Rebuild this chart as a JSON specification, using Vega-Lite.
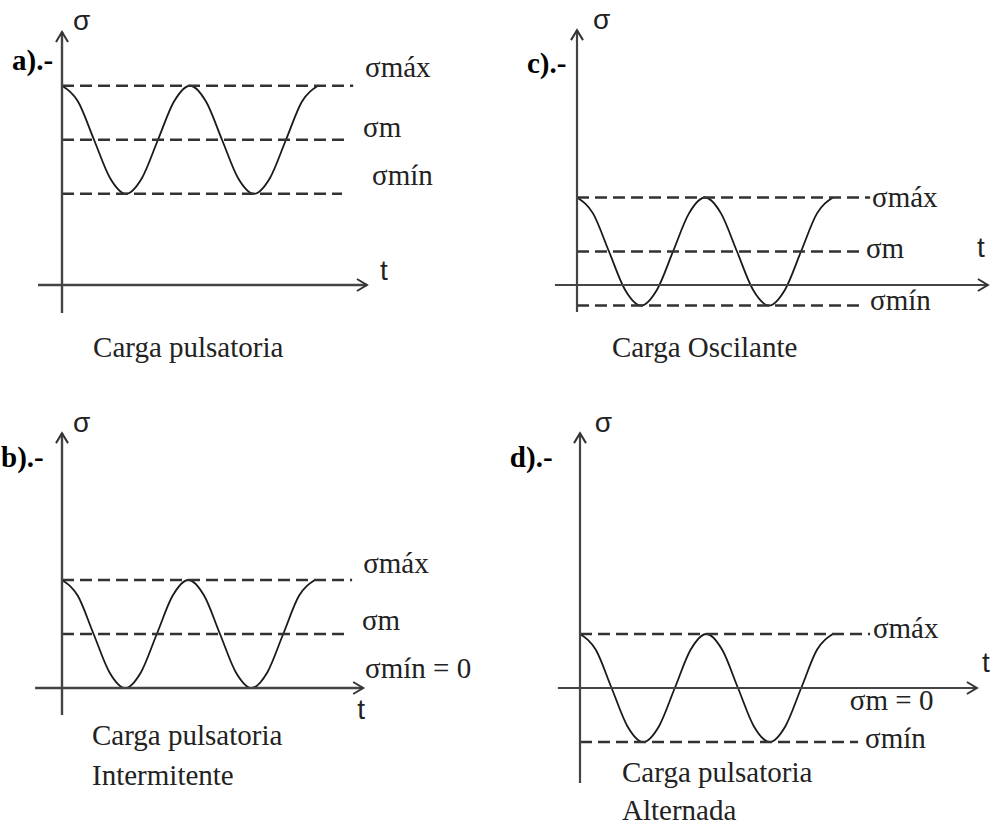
{
  "$schema": "https://vega.github.io/schema/vega-lite/v6.json",
  "padding": 0,
  "background": "white",
  "config": {"view": {"stroke": null}},
  "spacing": 0,
  "bounds": "flush",
  "columns": 2,
  "concat": [
        {
          "width": 495, "height": 412,
          "encoding": {
            "x": {"field": "t", "type": "quantitative", "axis": null, "scale": {"domain": [-1.9375, 13.53125], "nice": false, "zero": false}},
            "y": {"field": "s", "type": "quantitative", "axis": null, "scale": {"domain": [-2.35185, 5.27778], "nice": false, "zero": false}}
          },
          "layer": [
            {"data": {"values": [{"t":0,"s":3.69},{"t":0.5,"s":3.397},{"t":1,"s":2.69},{"t":1.5,"s":1.983},{"t":2,"s":1.69},{"t":2.5,"s":1.983},{"t":3,"s":2.69},{"t":3.5,"s":3.397},{"t":4,"s":3.69},{"t":4.5,"s":3.397},{"t":5,"s":2.69},{"t":5.5,"s":1.983},{"t":6,"s":1.69},{"t":6.5,"s":1.983},{"t":7,"s":2.69},{"t":7.5,"s":3.397},{"t":8,"s":3.69}]},
             "mark": {"type": "line", "interpolate": "monotone", "stroke": "#1a1a1a", "strokeWidth": 1.8}},
            {"data": {"values": [{"t":0,"t2":9.1,"s":3.69},{"t":0,"t2":8.95,"s":2.69},{"t":0,"t2":8.75,"s":1.69}]},
             "mark": {"type": "rule", "stroke": "#333", "strokeWidth": 2.3, "strokeDash": [12, 6]},
             "encoding": {"x2": {"field": "t2"}}},
            {"data": {"values": [{"t":0,"s":-0.52,"s2":4.685}]},
             "mark": {"type": "rule", "stroke": "#444", "strokeWidth": 2.4},
             "encoding": {"y2": {"field": "s2"}}},
            {"data": {"values": [{"t":-0.75,"t2":9.53,"s":0}]},
             "mark": {"type": "rule", "stroke": "#444", "strokeWidth": 2.4},
             "encoding": {"x2": {"field": "t2"}}},
            {"data": {"values": [{"t":0,"s":4.685}]},
             "mark": {"type": "point", "shape": "M-0.6,1L0,0L0.6,1", "size": 400, "filled": false, "stroke": "#333", "strokeWidth": 2, "opacity": 1}},
            {"data": {"values": [{"t":9.53,"s":0}]},
             "mark": {"type": "point", "shape": "M-1,-0.6L0,0L-1,0.6", "size": 400, "filled": false, "stroke": "#333", "strokeWidth": 2, "opacity": 1}},
            {"data": {"values": [{"t":9.47,"s":3.85,"label":"σmáx"},{"t":9.41,"s":2.74,"label":"σm"},{"t":9.69,"s":1.85,"label":"σmín"},{"t":0.97,"s":-1.333,"label":"Carga pulsatoria"}]},
             "mark": {"type": "text", "align": "left", "baseline": "alphabetic", "font": "Liberation Serif", "fontSize": 29, "color": "#222"},
             "encoding": {"text": {"field": "label"}}},
            {"data": {"values": [{"t":0.34,"s":4.72,"label":"σ"},{"t":9.94,"s":0.09,"label":"t"}]},
             "mark": {"type": "text", "align": "left", "baseline": "alphabetic", "font": "Liberation Sans", "fontSize": 28, "color": "#222"},
             "encoding": {"text": {"field": "label"}}},
            {"data": {"values": [{"t":-1.5625,"s":3.98,"label":"a).-"}]},
             "mark": {"type": "text", "align": "left", "baseline": "alphabetic", "font": "Liberation Serif", "fontWeight": "bold", "fontSize": 29, "color": "#000"},
             "encoding": {"text": {"field": "label"}}}
          ]
        },
        {
          "width": 496, "height": 412,
          "encoding": {
            "x": {"field": "t", "type": "quantitative", "axis": null, "scale": {"domain": [-2.5625, 12.9375], "nice": false, "zero": false}},
            "y": {"field": "s", "type": "quantitative", "axis": null, "scale": {"domain": [-2.35185, 5.27778], "nice": false, "zero": false}}
          },
          "layer": [
            {"data": {"values": [{"t":0,"s":1.62},{"t":0.5,"s":1.327},{"t":1,"s":0.62},{"t":1.5,"s":-0.087},{"t":2,"s":-0.38},{"t":2.5,"s":-0.087},{"t":3,"s":0.62},{"t":3.5,"s":1.327},{"t":4,"s":1.62},{"t":4.5,"s":1.327},{"t":5,"s":0.62},{"t":5.5,"s":-0.087},{"t":6,"s":-0.38},{"t":6.5,"s":-0.087},{"t":7,"s":0.62},{"t":7.5,"s":1.327},{"t":8,"s":1.62}]},
             "mark": {"type": "line", "interpolate": "monotone", "stroke": "#1a1a1a", "strokeWidth": 1.8}},
            {"data": {"values": [{"t":0,"t2":9.16,"s":1.62},{"t":0,"t2":9.0,"s":0.62},{"t":0,"t2":8.84,"s":-0.38}]},
             "mark": {"type": "rule", "stroke": "#333", "strokeWidth": 2.3, "strokeDash": [12, 6]},
             "encoding": {"x2": {"field": "t2"}}},
            {"data": {"values": [{"t":0,"s":-0.5,"s2":4.72}]},
             "mark": {"type": "rule", "stroke": "#444", "strokeWidth": 2.2},
             "encoding": {"y2": {"field": "s2"}}},
            {"data": {"values": [{"t":-0.69,"t2":12.84,"s":0}]},
             "mark": {"type": "rule", "stroke": "#444", "strokeWidth": 2.2},
             "encoding": {"x2": {"field": "t2"}}},
            {"data": {"values": [{"t":0,"s":4.72}]},
             "mark": {"type": "point", "shape": "M-0.6,1L0,0L0.6,1", "size": 400, "filled": false, "stroke": "#333", "strokeWidth": 2, "opacity": 1}},
            {"data": {"values": [{"t":12.84,"s":0}]},
             "mark": {"type": "point", "shape": "M-1,-0.6L0,0L-1,0.6", "size": 400, "filled": false, "stroke": "#333", "strokeWidth": 2, "opacity": 1}},
            {"data": {"values": [{"t":9.22,"s":1.44,"label":"σmáx"},{"t":9.03,"s":0.5,"label":"σm"},{"t":9.16,"s":-0.46,"label":"σmín"},{"t":1.09,"s":-1.333,"label":"Carga Oscilante"}]},
             "mark": {"type": "text", "align": "left", "baseline": "alphabetic", "font": "Liberation Serif", "fontSize": 29, "color": "#222"},
             "encoding": {"text": {"field": "label"}}},
            {"data": {"values": [{"t":0.5,"s":4.74,"label":"σ"},{"t":12.5,"s":0.52,"label":"t"}]},
             "mark": {"type": "text", "align": "left", "baseline": "alphabetic", "font": "Liberation Sans", "fontSize": 28, "color": "#222"},
             "encoding": {"text": {"field": "label"}}},
            {"data": {"values": [{"t":-1.5625,"s":3.93,"label":"c).-"}]},
             "mark": {"type": "text", "align": "left", "baseline": "alphabetic", "font": "Liberation Serif", "fontWeight": "bold", "fontSize": 29, "color": "#000"},
             "encoding": {"text": {"field": "label"}}}
          ]
        },
        {
          "width": 495, "height": 412,
          "encoding": {
            "x": {"field": "t", "type": "quantitative", "axis": null, "scale": {"domain": [-1.96203, 13.70253], "nice": false, "zero": false}},
            "y": {"field": "s", "type": "quantitative", "axis": null, "scale": {"domain": [-2.51852, 5.11111], "nice": false, "zero": false}}
          },
          "layer": [
            {"data": {"values": [{"t":0,"s":2},{"t":0.5,"s":1.707},{"t":1,"s":1},{"t":1.5,"s":0.293},{"t":2,"s":0},{"t":2.5,"s":0.293},{"t":3,"s":1},{"t":3.5,"s":1.707},{"t":4,"s":2},{"t":4.5,"s":1.707},{"t":5,"s":1},{"t":5.5,"s":0.293},{"t":6,"s":0},{"t":6.5,"s":0.293},{"t":7,"s":1},{"t":7.5,"s":1.707},{"t":8,"s":2}]},
             "mark": {"type": "line", "interpolate": "monotone", "stroke": "#1a1a1a", "strokeWidth": 1.8}},
            {"data": {"values": [{"t":0,"t2":9.18,"s":2},{"t":0,"t2":8.96,"s":1}]},
             "mark": {"type": "rule", "stroke": "#333", "strokeWidth": 2.3, "strokeDash": [12, 6]},
             "encoding": {"x2": {"field": "t2"}}},
            {"data": {"values": [{"t":0,"s":-0.5,"s2":4.72}]},
             "mark": {"type": "rule", "stroke": "#444", "strokeWidth": 2.4},
             "encoding": {"y2": {"field": "s2"}}},
            {"data": {"values": [{"t":-0.85,"t2":9.53,"s":0}]},
             "mark": {"type": "rule", "stroke": "#444", "strokeWidth": 2.4},
             "encoding": {"x2": {"field": "t2"}}},
            {"data": {"values": [{"t":0,"s":4.72}]},
             "mark": {"type": "point", "shape": "M-0.6,1L0,0L0.6,1", "size": 400, "filled": false, "stroke": "#333", "strokeWidth": 2, "opacity": 1}},
            {"data": {"values": [{"t":9.53,"s":0}]},
             "mark": {"type": "point", "shape": "M-1,-0.6L0,0L-1,0.6", "size": 400, "filled": false, "stroke": "#333", "strokeWidth": 2, "opacity": 1}},
            {"data": {"values": [{"t":9.53,"s":2.13,"label":"σmáx"},{"t":9.49,"s":1.07,"label":"σm"},{"t":9.59,"s":0.185,"label":"σmín = 0"},{"t":0.95,"s":-1.056,"label":"Carga pulsatoria"},{"t":0.95,"s":-1.796,"label":"Intermitente"}]},
             "mark": {"type": "text", "align": "left", "baseline": "alphabetic", "font": "Liberation Serif", "fontSize": 29, "color": "#222"},
             "encoding": {"text": {"field": "label"}}},
            {"data": {"values": [{"t":0.35,"s":4.74,"label":"σ"},{"t":9.34,"s":-0.574,"label":"t"}]},
             "mark": {"type": "text", "align": "left", "baseline": "alphabetic", "font": "Liberation Sans", "fontSize": 28, "color": "#222"},
             "encoding": {"text": {"field": "label"}}},
            {"data": {"values": [{"t":-1.93,"s":4.09,"label":"b).-"}]},
             "mark": {"type": "text", "align": "left", "baseline": "alphabetic", "font": "Liberation Serif", "fontWeight": "bold", "fontSize": 29, "color": "#000"},
             "encoding": {"text": {"field": "label"}}}
          ]
        },
        {
          "width": 496, "height": 412,
          "encoding": {
            "x": {"field": "t", "type": "quantitative", "axis": null, "scale": {"domain": [-2.68987, 13.00633], "nice": false, "zero": false}},
            "y": {"field": "s", "type": "quantitative", "axis": null, "scale": {"domain": [-2.51852, 5.11111], "nice": false, "zero": false}}
          },
          "layer": [
            {"data": {"values": [{"t":0,"s":1},{"t":0.5,"s":0.707},{"t":1,"s":0},{"t":1.5,"s":-0.707},{"t":2,"s":-1},{"t":2.5,"s":-0.707},{"t":3,"s":0},{"t":3.5,"s":0.707},{"t":4,"s":1},{"t":4.5,"s":0.707},{"t":5,"s":0},{"t":5.5,"s":-0.707},{"t":6,"s":-1},{"t":6.5,"s":-0.707},{"t":7,"s":0},{"t":7.5,"s":0.707},{"t":8,"s":1}]},
             "mark": {"type": "line", "interpolate": "monotone", "stroke": "#1a1a1a", "strokeWidth": 1.8}},
            {"data": {"values": [{"t":0,"t2":9.18,"s":1},{"t":0,"t2":8.8,"s":-1}]},
             "mark": {"type": "rule", "stroke": "#333", "strokeWidth": 2.3, "strokeDash": [12, 6]},
             "encoding": {"x2": {"field": "t2"}}},
            {"data": {"values": [{"t":0,"s":-1.76,"s2":4.72}]},
             "mark": {"type": "rule", "stroke": "#444", "strokeWidth": 2.2},
             "encoding": {"y2": {"field": "s2"}}},
            {"data": {"values": [{"t":-0.7,"t2":12.56,"s":0}]},
             "mark": {"type": "rule", "stroke": "#444", "strokeWidth": 2.2},
             "encoding": {"x2": {"field": "t2"}}},
            {"data": {"values": [{"t":0,"s":4.72}]},
             "mark": {"type": "point", "shape": "M-0.6,1L0,0L0.6,1", "size": 400, "filled": false, "stroke": "#333", "strokeWidth": 2, "opacity": 1}},
            {"data": {"values": [{"t":12.56,"s":0}]},
             "mark": {"type": "point", "shape": "M-1,-0.6L0,0L-1,0.6", "size": 400, "filled": false, "stroke": "#333", "strokeWidth": 2, "opacity": 1}},
            {"data": {"values": [{"t":9.27,"s":0.93,"label":"σmáx"},{"t":8.54,"s":-0.41,"label":"σm = 0"},{"t":9.02,"s":-1.11,"label":"σmín"},{"t":1.33,"s":-1.74,"label":"Carga pulsatoria"},{"t":1.33,"s":-2.44,"label":"Alternada"}]},
             "mark": {"type": "text", "align": "left", "baseline": "alphabetic", "font": "Liberation Serif", "fontSize": 29, "color": "#222"},
             "encoding": {"text": {"field": "label"}}},
            {"data": {"values": [{"t":0.47,"s":4.74,"label":"σ"},{"t":12.72,"s":0.3,"label":"t"}]},
             "mark": {"type": "text", "align": "left", "baseline": "alphabetic", "font": "Liberation Sans", "fontSize": 28, "color": "#222"},
             "encoding": {"text": {"field": "label"}}},
            {"data": {"values": [{"t":-2.22,"s":4.09,"label":"d).-"}]},
             "mark": {"type": "text", "align": "left", "baseline": "alphabetic", "font": "Liberation Serif", "fontWeight": "bold", "fontSize": 29, "color": "#000"},
             "encoding": {"text": {"field": "label"}}}
          ]
        }
  ]
}
